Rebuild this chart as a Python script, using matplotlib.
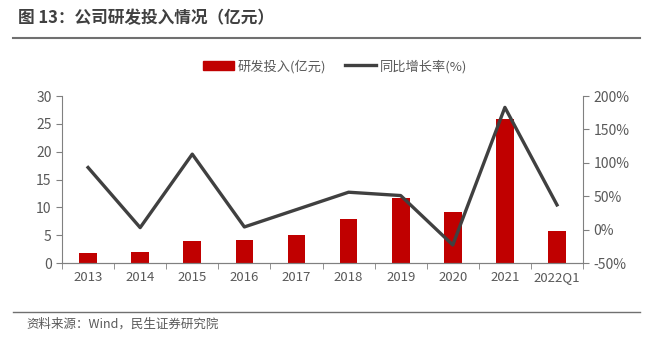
import matplotlib
matplotlib.use("Agg")
import matplotlib.pyplot as plt
from matplotlib.lines import Line2D
import numpy as np

plt.rcParams['font.family'] = ['Noto Sans CJK SC', 'DejaVu Sans']

# 数据
years = ["2013", "2014", "2015", "2016", "2017", "2018", "2019", "2020", "2021", "2022Q1"]
rd_spend = [1.8, 1.9, 3.9, 4.1, 5.1, 7.9, 11.7, 9.2, 25.8, 5.7]
yoy_growth = [93, 3, 113, 4, 30, 56, 51, -23, 183, 37]

bar_color = "#C00000"
line_color = "#404040"
text_color = "#595959"
axis_color = "#808080"

fig = plt.figure(figsize=(6.5, 3.43), dpi=100)
ax = fig.add_axes([0.0954, 0.2332, 0.8016, 0.4868])
ax2 = ax.twinx()

x = np.arange(len(years))
ax.bar(x, rd_spend, width=0.34, color=bar_color, zorder=2)
ax2.plot(x, yoy_growth, color=line_color, linewidth=2.4, zorder=3)

ax.set_xlim(-0.5, len(years) - 0.5)
ax.set_ylim(0, 30)
ax.set_yticks([0, 5, 10, 15, 20, 25, 30])
ax2.set_ylim(-50, 200)
ax2.set_yticks([-50, 0, 50, 100, 150, 200])
ax2.set_yticklabels([f"{v}%" for v in [-50, 0, 50, 100, 150, 200]])

ax.set_xticks(x)
ax.set_xticklabels(years)
ax.set_xticks(np.arange(-0.5, len(years)), minor=True)
ax.tick_params(axis='x', which='major', length=0, pad=6)
ax.tick_params(axis='x', which='minor', length=4, color=axis_color)

for a in (ax, ax2):
    a.spines['top'].set_visible(False)
    for s in ('left', 'right', 'bottom'):
        a.spines[s].set_color(axis_color)
    a.tick_params(axis='y', length=4, color=axis_color, labelsize=10, labelcolor=text_color)
    a.set_zorder(1)
ax.tick_params(axis='x', labelsize=9.5, labelcolor=text_color)
ax2.set_zorder(2)
ax2.patch.set_visible(False)
ax.spines['right'].set_visible(False)
ax2.spines['left'].set_visible(False)

# 图例
handles = [plt.Rectangle((0, 0), 1, 1, color=bar_color),
           Line2D([0], [0], color=line_color, linewidth=2.4)]
fig.legend(handles, ["研发投入(亿元)", "同比增长率(%)"], loc='center',
           bbox_to_anchor=(0.515, 0.807), ncol=2, frameon=False,
           fontsize=9.5, labelcolor=text_color, handlelength=2.4,
           handleheight=0.7, columnspacing=1.4, handletextpad=0.25)

# 标题与来源
fig.text(0.028, 0.947, "图 13：公司研发投入情况（亿元）", fontsize=12,
         fontweight='bold', color="#404040", va='center')
fig.add_artist(Line2D([0.02, 0.985], [0.888, 0.888], color="#707070", linewidth=1.5))
fig.add_artist(Line2D([0.02, 0.985], [0.09, 0.09], color="#707070", linewidth=1.0))
fig.text(0.04, 0.055, "资料来源：Wind，民生证券研究院", fontsize=9,
         color=text_color, va='center')

fig.savefig("out.png", dpi=100)
